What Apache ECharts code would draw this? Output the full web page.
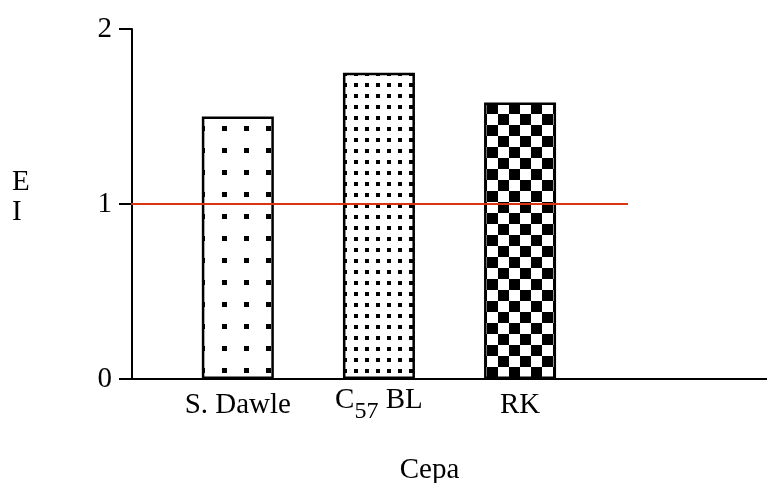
<!DOCTYPE html>
<html>
<head>
<meta charset="utf-8">
<script src="https://cdn.jsdelivr.net/npm/echarts@6/dist/echarts.min.js"></script>
<style>
html,body{margin:0;padding:0;background:#fff;}
#chart{width:767px;height:483px;}
</style>
</head>
<body>
<div id="chart"></div>
<script>
// ---- data ----
const categories = ['S. Dawle', 'C57 BL', 'RK'];
const values = [1.5, 1.75, 1.58];
const yTicks = [0, 1, 2];
const refValue = 1;
const refLineX = [-0.14, 7.03];   // reference line extent in slot units
const slotCount = 9;
const barSlots = [1, 3, 5];
const xName = 'Cepa';
const yName = 'E\nI';

// ---- patterns ----
function makePattern(size, cells) {
  const c = document.createElement('canvas');
  c.width = size; c.height = size;
  const ctx = c.getContext('2d');
  ctx.fillStyle = '#fff';
  ctx.fillRect(0, 0, size, size);
  ctx.fillStyle = '#000';
  cells.forEach(([x, y, w, h]) => {
    for (let dx = -1; dx <= 1; dx++) {
      for (let dy = -1; dy <= 1; dy++) {
        ctx.fillRect(x + dx * size, y + dy * size, w, h);
      }
    }
  });
  return c;
}
const sparseDots = makePattern(22, [[2, 16, 5, 5]]);
const denseDots = makePattern(11, [[2, 6, 4, 4]]);
const checker = makePattern(22, [[3, 15, 11, 11], [14, 4, 11, 11]]);
const patterns = [sparseDots, denseDots, checker];

// ---- build slot arrays ----
const slotLabels = new Array(slotCount).fill('');
const slotData = new Array(slotCount).fill('-');
barSlots.forEach((s, i) => {
  slotLabels[s] = categories[i];
  slotData[s] = {
    value: values[i],
    itemStyle: { color: { image: patterns[i], repeat: 'repeat' } }
  };
});

const FONT = "'Liberation Serif', 'Times New Roman', serif";
const FS = 29;

const chart = echarts.init(document.getElementById('chart'), null, { renderer: 'canvas' });
chart.setOption({
  animation: false,
  backgroundColor: '#fff',
  grid: { left: 132, right: 0, top: 29, bottom: 104, containLabel: false, outerBoundsMode: 'none' },
  xAxis: [{
    type: 'category',
    data: slotLabels,
    boundaryGap: true,
    axisLine: { lineStyle: { color: '#000', width: 2 } },
    axisTick: { show: false },
    axisLabel: {
      interval: 0,
      margin: 26,
      verticalAlign: 'middle',
      color: '#000',
      fontFamily: FONT,
      fontSize: FS,
      lineHeight: 28,
      formatter: function (v) {
        if (v === 'C57 BL') return '{m|C}{s|57}{m| BL}';
        return v;
      },
      rich: {
        m: { fontFamily: FONT, fontSize: FS, lineHeight: 28, color: '#000', verticalAlign: 'top' },
        s: { fontFamily: FONT, fontSize: 24, lineHeight: 38, color: '#000', verticalAlign: 'bottom' }
      }
    },
    name: xName,
    nameLocation: 'middle',
    nameGap: 77,
    nameTextStyle: { fontFamily: FONT, fontSize: FS, lineHeight: 28, color: '#000', padding: [0, 40, 0, 0] }
  }, {
    type: 'value',
    min: 0,
    max: slotCount,
    show: false
  }],
  yAxis: {
    type: 'value',
    min: 0,
    max: 2,
    interval: 1,
    axisLine: { show: true, lineStyle: { color: '#000', width: 2 } },
    axisTick: { show: true, length: 13, lineStyle: { color: '#000', width: 2 } },
    splitLine: { show: false },
    axisLabel: {
      margin: 20,
      color: '#000',
      fontFamily: FONT,
      fontSize: FS,
      formatter: function (v) { return yTicks.indexOf(v) >= 0 ? String(v) : ''; }
    }
  },
  graphic: [{
    type: 'text',
    left: 12,
    top: 167,
    style: { text: yName, font: "29px 'Liberation Serif', serif", lineHeight: 30, fill: '#000' }
  }],
  series: [{
    type: 'bar',
    xAxisIndex: 0,
    data: slotData,
    barWidth: 72,
    itemStyle: { borderColor: '#000', borderWidth: 2.5 },
    z: 2
  }, {
    type: 'line',
    xAxisIndex: 1,
    data: [[refLineX[0], refValue], [refLineX[1], refValue]],
    symbol: 'none',
    clip: false,
    lineStyle: { color: '#dd3311', width: 2 },
    z: 5
  }]
});
</script>
</body>
</html>
